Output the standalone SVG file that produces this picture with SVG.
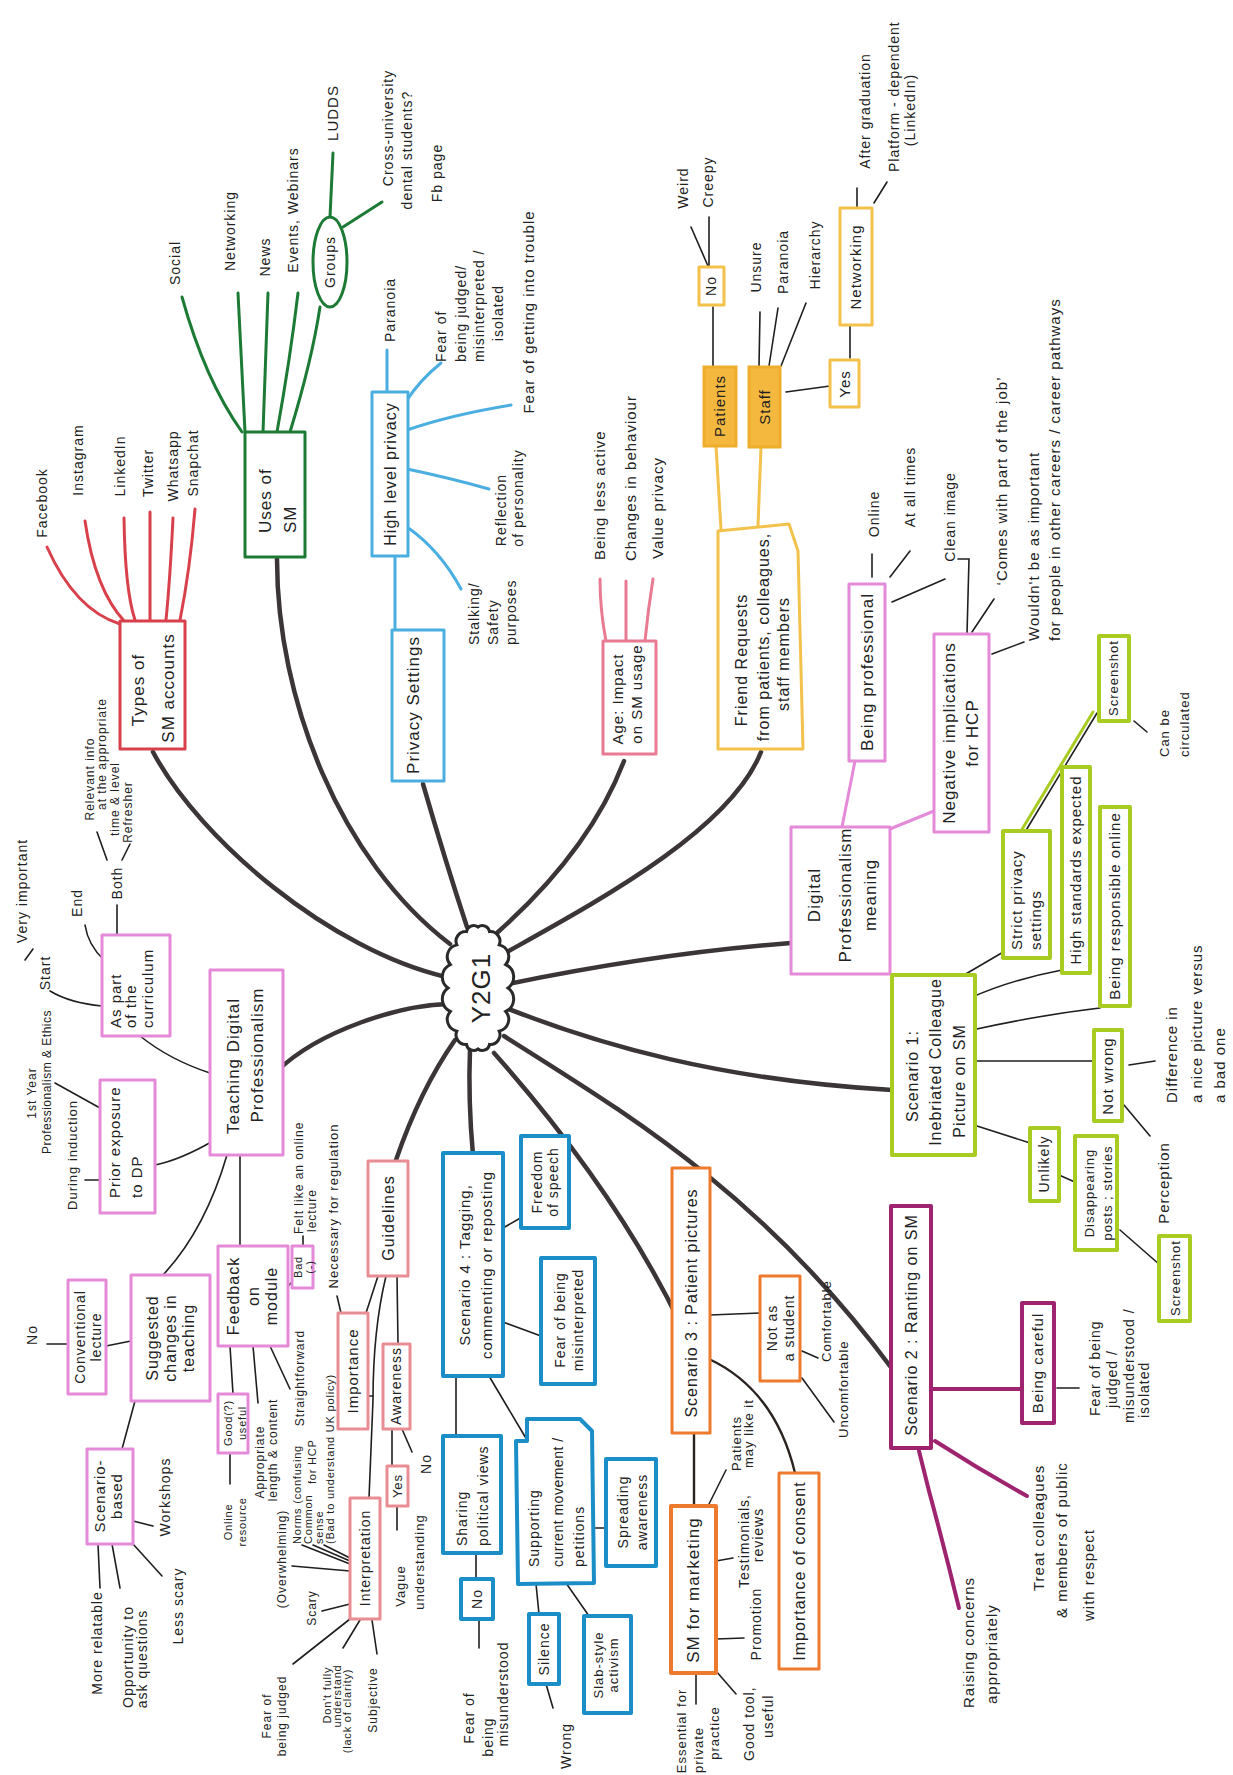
<svg xmlns="http://www.w3.org/2000/svg" width="1233" height="1775" viewBox="0 0 1233 1775">
<style>
text{font-family:"Liberation Sans","DejaVu Sans",sans-serif;fill:#222;}
.m{text-anchor:middle}
.s{text-anchor:start}
.f11{font-size:11px;letter-spacing:.8px}
.f12{font-size:12px;letter-spacing:1px}
.f13{font-size:13px;letter-spacing:1px}
.f14{font-size:14px;letter-spacing:1px}
.f15{font-size:15px;letter-spacing:1px}
.f16{font-size:16px;letter-spacing:1px}
.f17{font-size:17px;letter-spacing:1px}
.cn{fill:none;stroke:#3b3537;stroke-width:4.5;stroke-linecap:round}
.k{fill:none;stroke:#1f1f1f;stroke-width:1.6;stroke-linecap:round}
.kd{fill:none;stroke:#2a2320;stroke-width:2.4;stroke-linecap:round}
.L{fill:none;stroke-width:3;stroke-linecap:round}
.bx{fill:#fff;stroke-width:3;stroke-linejoin:round}
.red{stroke:#d8414c}.grn{stroke:#1c7a35}.lb{stroke:#4aaee0}.pk{stroke:#e87b92}.yl{stroke:#f2c24c}.mg{stroke:#e58ad8}.lm{stroke:#a9cc22}.pu{stroke:#9e2470}.or{stroke:#ee7a2e}.bl{stroke:#1b8ec7}.sa{stroke:#e98d95}
.w4{stroke-width:4}
.gold{fill:#f5b83f;stroke:#eeae2c;stroke-width:3}
</style>

<g id="connectors">
<path class="cn" d="M153,752 C200,840 330,950 446,977"/>
<path class="cn" d="M277,559 C277,700 340,860 450,944"/>
<path class="cn" d="M423,784 Q445,860 467,927"/>
<path class="cn" d="M624,761 Q590,850 498,932"/>
<path class="cn" d="M761,752 C730,830 600,900 507,952"/>
<path class="cn" d="M791,943 C700,950 600,965 508,984"/>
<path class="cn" d="M892,1090 C720,1080 600,1045 506,1008"/>
<path class="cn" d="M893,1370 C760,1190 620,1110 504,1036"/>
<path class="cn" d="M681,1325 C640,1240 580,1150 494,1053"/>
<path class="cn" d="M473,1155 Q468,1100 470,1049"/>
<path class="cn" d="M396,1160 Q420,1090 455,1040"/>
<path class="cn" d="M277,1071 C320,1030 400,1005 449,1004"/>
<path class="L red" d="M120,624 Q75,610 47,547"/>
<path class="L red" d="M125,622 Q95,590 85,521"/>
<path class="L red" d="M135,620 Q125,590 124,518"/>
<path class="L red" d="M150,620 L150,512"/>
<path class="L red" d="M166,620 Q170,580 173,518"/>
<path class="L red" d="M180,620 Q190,570 195,509"/>
<path class="L grn" d="M242,432 Q205,380 182,297"/>
<path class="L grn" d="M245,432 L238,293"/>
<path class="L grn" d="M263,432 L268,293"/>
<path class="L grn" d="M277,432 Q290,360 298,293"/>
<path class="L grn" d="M290,432 Q312,360 320,307"/>
<path class="L grn" d="M330,217 L333,153"/>
<path class="L grn" d="M343,227 L382,202"/>
<path class="L lb" d="M395,630 L395,556"/>
<path class="L lb" d="M387,392 L387,350"/>
<path class="L lb" d="M407,400 Q420,380 441,363"/>
<path class="L lb" d="M407,430 Q450,415 511,405"/>
<path class="L lb" d="M407,469 Q450,478 489,489"/>
<path class="L lb" d="M407,527 Q440,550 461,589"/>
<path class="L pk" d="M606,641 Q600,610 600,579"/>
<path class="L pk" d="M626,641 L626,581"/>
<path class="L pk" d="M645,641 Q648,610 653,579"/>
<path class="L yl" d="M721,529 L716,446"/>
<path class="L yl" d="M758,526 L761,447"/>
<path class="k" d="M713,366 L713,307"/>
<path class="k" d="M708,266 L691,227"/>
<path class="k" d="M709,266 L709,217"/>
<path class="k" d="M759,366 L760,312"/>
<path class="k" d="M769,366 L778,308"/>
<path class="k" d="M781,366 L806,303"/>
<path class="k" d="M786,392 L830,386"/>
<path class="k" d="M850,358 L850,325"/>
<path class="k" d="M857,207 L857,188"/>
<path class="k" d="M874,203 L887,182"/>
<path class="L mg" d="M842,827 L855,761"/>
<path class="L mg" d="M885,831 L934,811"/>
<path class="k" d="M872,577 L872,554"/>
<path class="k" d="M890,577 L910,551"/>
<path class="k" d="M892,602 L945,579"/>
<path class="k" d="M967,634 L969,559 L958,559"/>
<path class="k" d="M972,632 L994,599"/>
<path class="k" d="M992,654 L1024,642"/>
<path class="L lm" d="M1093,712 L1021,831"/>
<path class="k" d="M1097,713 L1025,832"/>
<path class="k" d="M1134,721 L1147,732"/>
<path class="k" d="M964,975 L1005,951"/>
<path class="k" d="M970,998 Q1010,980 1062,970"/>
<path class="k" d="M972,1030 Q1040,1015 1100,1008"/>
<path class="k" d="M972,1061 L1094,1061"/>
<path class="k" d="M977,1126 L1030,1143"/>
<path class="k" d="M1129,1065 L1155,1061"/>
<path class="k" d="M1124,1105 L1150,1136"/>
<path class="k" d="M1059,1175 L1077,1183"/>
<path class="k" d="M1120,1230 L1160,1265"/>
<path class="L pu w4" d="M931,1389 L1022,1389"/>
<path class="k" d="M1057,1388 L1079,1388"/>
<path class="L pu w4" d="M935,1441 Q980,1470 1027,1496"/>
<path class="L pu w4" d="M919,1451 L929,1491 Q945,1550 959,1608"/>
<path class="k" d="M710,1315 L760,1313"/>
<path class="k" d="M802,1351 L818,1358"/>
<path class="k" d="M802,1378 L834,1422"/>
<path class="kd" d="M709,1359 Q775,1390 795,1473"/>
<path class="kd" d="M694,1433 L694,1506"/>
<path class="k" d="M708,1506 L726,1470"/>
<path class="k" d="M716,1561 L733,1558"/>
<path class="k" d="M716,1639 L744,1638"/>
<path class="k" d="M716,1671 L736,1694"/>
<path class="k" d="M696,1673 L696,1704"/>
<path class="k" d="M503,1228 L524,1216"/>
<path class="k" d="M503,1322 L541,1336"/>
<path class="k" d="M456,1376 L456,1436"/>
<path class="k" d="M489,1376 L527,1440"/>
<path class="k" d="M594,1528 L606,1528"/>
<path class="k" d="M476,1553 L476,1579"/>
<path class="k" d="M479,1619 L479,1648"/>
<path class="k" d="M536,1584 L539,1614"/>
<path class="k" d="M546,1684 L553,1708"/>
<path class="k" d="M566,1583 L589,1616"/>
<path class="k" d="M210,1073 Q170,1060 140,1036"/>
<path class="k" d="M102,1006 Q70,1003 50,991"/>
<path class="k" d="M25,960 L33,949"/>
<path class="k" d="M104,960 Q88,945 85,925"/>
<path class="k" d="M117,935 L117,905"/>
<path class="k" d="M107,860 L97,832"/>
<path class="k" d="M122,860 L130,844"/>
<path class="k" d="M213,1141 Q180,1160 155,1165"/>
<path class="k" d="M100,1108 L55,1083"/>
<path class="k" d="M100,1180 L85,1180"/>
<path class="k" d="M227,1155 Q205,1230 163,1275"/>
<path class="k" d="M240,1155 L240,1246"/>
<path class="k" d="M288,1286 L292,1282"/>
<path class="k" d="M303,1246 L303,1236"/>
<path class="k" d="M337,1296 L341,1313"/>
<path class="k" d="M378,1276 L366,1313"/>
<path class="k" d="M386,1276 Q373,1330 373,1400 L369,1498"/>
<path class="k" d="M368,1396 L373,1396"/>
<path class="k" d="M397,1276 L398,1344"/>
<path class="k" d="M392,1429 L392,1466"/>
<path class="k" d="M402,1429 L412,1452"/>
<path class="k" d="M397,1506 L397,1530"/>
<path class="k" d="M292,1566 L350,1571"/>
<path class="k" d="M302,1545 L350,1564"/>
<path class="k" d="M313,1545 L350,1561"/>
<path class="k" d="M324,1545 L350,1558"/>
<path class="k" d="M322,1611 L350,1604"/>
<path class="k" d="M293,1664 L350,1619"/>
<path class="k" d="M343,1648 L360,1620"/>
<path class="k" d="M377,1654 L372,1620"/>
<path class="k" d="M131,1341 L106,1346"/>
<path class="k" d="M67,1344 L47,1344"/>
<path class="k" d="M135,1401 L122,1449"/>
<path class="k" d="M133,1521 L153,1526"/>
<path class="k" d="M133,1544 L162,1576"/>
<path class="k" d="M112,1544 L120,1588"/>
<path class="k" d="M98,1544 L100,1588"/>
<path class="k" d="M230,1346 L233,1394"/>
<path class="k" d="M230,1453 L230,1484"/>
<path class="k" d="M253,1346 L258,1403"/>
<path class="k" d="M270,1346 L290,1389"/>
</g>

<g id="y2g1">
<path d="M508,988 A13.6,13.6 0 0 1 505.7,1011.4 A12,12 0 0 1 499.2,1031.1 A9.6,9.6 0 0 1 489.5,1044.4 A7.2,7.2 0 0 1 478,1049 A7.2,7.2 0 0 1 466.5,1044.4 A9.6,9.6 0 0 1 456.8,1031.1 A12,12 0 0 1 450.3,1011.4 A13.6,13.6 0 0 1 448,988 A13.6,13.6 0 0 1 450.3,964.6 A12,12 0 0 1 456.8,944.9 A9.6,9.6 0 0 1 466.5,931.6 A7.2,7.2 0 0 1 478,927 A7.2,7.2 0 0 1 489.5,931.6 A9.6,9.6 0 0 1 499.2,944.9 A12,12 0 0 1 505.7,964.6 A13.6,13.6 0 0 1 508,988 Z" fill="#fff" stroke="#2a2a2a" stroke-width="3"/>
<text class="m" style="font-size:26px;letter-spacing:1px" transform="translate(490,988) rotate(-90)">Y2G1</text>
</g>

<g id="types-sm-accounts">
<rect class="bx red" x="120" y="621" width="65" height="128"/>
<text class="f17 m" transform="translate(144,690) rotate(-90)">Types of</text>
<text class="f17 m" transform="translate(174,688) rotate(-90)">SM accounts</text>
</g>
<g id="facebook"><text class="f14 m" transform="translate(47,503) rotate(-90)">Facebook</text></g>
<g id="instagram"><text class="f14 m" transform="translate(83,460) rotate(-90)">Instagram</text></g>
<g id="linkedin"><text class="f14 m" transform="translate(125,466) rotate(-90)">LinkedIn</text></g>
<g id="twitter"><text class="f14 m" transform="translate(153,473) rotate(-90)">Twitter</text></g>
<g id="whatsapp"><text class="f14 m" transform="translate(178,466) rotate(-90)">Whatsapp</text></g>
<g id="snapchat"><text class="f14 m" transform="translate(198,463) rotate(-90)">Snapchat</text></g>

<g id="uses-of-sm">
<rect class="bx grn" x="245" y="432" width="60" height="125"/>
<text class="f17 s" transform="translate(271,533) rotate(-90)">Uses of</text>
<text class="f17 s" transform="translate(296,533) rotate(-90)">SM</text>
</g>
<g id="social"><text class="f14 m" transform="translate(180,263) rotate(-90)">Social</text></g>
<g id="networking-use"><text class="f14 m" transform="translate(235,231) rotate(-90)">Networking</text></g>
<g id="news"><text class="f14 m" transform="translate(270,257) rotate(-90)">News</text></g>
<g id="events"><text class="f14 m" transform="translate(298,210) rotate(-90)">Events, Webinars</text></g>
<g id="groups">
<ellipse cx="330" cy="262" rx="17" ry="45" fill="#fff" stroke="#1c7a35" stroke-width="3"/>
<text class="f14 m" transform="translate(335,262) rotate(-90)">Groups</text>
</g>
<g id="ludds"><text class="f15 m" transform="translate(338,113) rotate(-90)">LUDDS</text></g>
<g id="cross-university">
<text class="f14 m" transform="translate(393,128) rotate(-90)">Cross-university</text>
<text class="f14 m" transform="translate(412,150) rotate(-90)">dental students?</text>
<text class="f14 m" transform="translate(442,173) rotate(-90)">Fb page</text>
</g>

<g id="privacy-settings">
<rect class="bx lb" x="392" y="630" width="52" height="151"/>
<text class="f17 m" transform="translate(419,705) rotate(-90)">Privacy Settings</text>
</g>
<g id="high-level-privacy">
<rect class="bx lb" x="372" y="392" width="36" height="164"/>
<text class="f16 m" transform="translate(396,474) rotate(-90)">High level privacy</text>
</g>
<g id="paranoia-1"><text class="f14 m" transform="translate(395,310) rotate(-90)">Paranoia</text></g>
<g id="fear-judged">
<text class="f14 s" transform="translate(446,362) rotate(-90)">Fear of</text>
<text class="f14 s" transform="translate(466,362) rotate(-90)">being judged/</text>
<text class="f14 s" transform="translate(484,362) rotate(-90)">misinterpreted /</text>
<text class="f14 m" transform="translate(503,313) rotate(-90)">isolated</text>
</g>
<g id="fear-trouble"><text class="f15 m" transform="translate(534,312) rotate(-90)">Fear of getting into trouble</text></g>
<g id="reflection">
<text class="f14 m" transform="translate(506,510) rotate(-90)">Reflection</text>
<text class="f14 m" transform="translate(523,498) rotate(-90)">of personality</text>
</g>
<g id="stalking">
<text class="f14 s" transform="translate(479,645) rotate(-90)">Stalking/</text>
<text class="f14 s" transform="translate(498,645) rotate(-90)">Safety</text>
<text class="f14 s" transform="translate(516,645) rotate(-90)">purposes</text>
</g>

<g id="age-impact">
<rect class="bx pk" x="603" y="641" width="53" height="113"/>
<text class="f15 m" transform="translate(623,699) rotate(-90)">Age: Impact</text>
<text class="f15 m" transform="translate(642,694) rotate(-90)">on SM usage</text>
</g>
<g id="less-active"><text class="f15 s" transform="translate(605,560) rotate(-90)">Being less active</text></g>
<g id="changes-behaviour"><text class="f15 s" transform="translate(636,561) rotate(-90)">Changes in behaviour</text></g>
<g id="value-privacy"><text class="f15 s" transform="translate(663,559) rotate(-90)">Value privacy</text></g>

<g id="friend-requests">
<polygon class="bx yl" points="718,531 789,524 798,551 803,749 718,749"/>
<text class="f16 m" transform="translate(747,660) rotate(-90)">Friend Requests</text>
<text class="f16 m" transform="translate(769,637) rotate(-90)">from patients, colleagues,</text>
<text class="f16 m" transform="translate(789,654) rotate(-90)">staff members</text>
</g>
<g id="patients">
<rect class="gold" x="704" y="367" width="32" height="79"/>
<text class="f15 m" transform="translate(725,406) rotate(-90)">Patients</text>
</g>
<g id="staff">
<rect class="gold" x="749" y="367" width="31" height="80"/>
<text class="f15 m" transform="translate(770,407) rotate(-90)">Staff</text>
</g>
<g id="no-patients">
<rect class="bx yl" x="699" y="267" width="25" height="38"/>
<text class="f14 m" transform="translate(716,286) rotate(-90)">No</text>
</g>
<g id="weird"><text class="f14 m" transform="translate(688,188) rotate(-90)">Weird</text></g>
<g id="creepy"><text class="f14 m" transform="translate(713,182) rotate(-90)">Creepy</text></g>
<g id="unsure"><text class="f14 m" transform="translate(761,267) rotate(-90)">Unsure</text></g>
<g id="paranoia-2"><text class="f14 m" transform="translate(788,262) rotate(-90)">Paranoia</text></g>
<g id="hierarchy"><text class="f14 m" transform="translate(820,255) rotate(-90)">Hierarchy</text></g>
<g id="yes-staff">
<rect class="bx yl" x="830" y="360" width="29" height="47"/>
<text class="f15 m" transform="translate(850,384) rotate(-90)">Yes</text>
</g>
<g id="networking-staff">
<rect class="bx yl" x="840" y="208" width="32" height="117"/>
<text class="f15 m" transform="translate(861,267) rotate(-90)">Networking</text>
</g>
<g id="after-graduation"><text class="f14 m" transform="translate(870,111) rotate(-90)">After graduation</text></g>
<g id="platform-dependent">
<text class="f14 s" transform="translate(899,172) rotate(-90)">Platform - dependent</text>
<text class="f14 m" transform="translate(915,110) rotate(-90)">(LinkedIn)</text>
</g>

<g id="digital-professionalism">
<rect class="bx mg" x="791" y="827" width="99" height="147"/>
<text class="f17 m" transform="translate(820,895) rotate(-90)">Digital</text>
<text class="f17 m" transform="translate(851,895) rotate(-90)">Professionalism</text>
<text class="f17 m" transform="translate(876,895) rotate(-90)">meaning</text>
</g>
<g id="being-professional">
<rect class="bx mg" x="849" y="584" width="36" height="177"/>
<text class="f17 m" transform="translate(873,672) rotate(-90)">Being professional</text>
</g>
<g id="online"><text class="f14 m" transform="translate(879,514) rotate(-90)">Online</text></g>
<g id="at-all-times"><text class="f14 m" transform="translate(915,487) rotate(-90)">At all times</text></g>
<g id="clean-image"><text class="f14 m" transform="translate(955,517) rotate(-90)">Clean image</text></g>
<g id="negative-implications">
<rect class="bx mg" x="934" y="634" width="55" height="198"/>
<text class="f17 m" transform="translate(955,733) rotate(-90)">Negative implications</text>
<text class="f17 m" transform="translate(978,733) rotate(-90)">for HCP</text>
</g>
<g id="comes-with-job"><text class="f15 m" transform="translate(1007,481) rotate(-90)">‘Comes with part of the job’</text></g>
<g id="wouldnt-be">
<text class="f15 s" transform="translate(1039,641) rotate(-90)">Wouldn't be as important</text>
<text class="f15 s" transform="translate(1060,641) rotate(-90)">for people in other careers / career pathways</text>
</g>

<g id="scenario-1">
<rect class="bx lm w4" x="892" y="975" width="83" height="180"/>
<text class="f16 m" transform="translate(918,1076) rotate(-90)">Scenario 1:</text>
<text class="f16 m" transform="translate(941,1062) rotate(-90)">Inebriated Colleague</text>
<text class="f16 m" transform="translate(965,1081) rotate(-90)">Picture on SM</text>
</g>
<g id="screenshot-1">
<rect class="bx lm w4" x="1099" y="636" width="30" height="85"/>
<text class="f13 m" transform="translate(1118,678) rotate(-90)">Screenshot</text>
</g>
<g id="can-be-circulated">
<text class="f13 s" transform="translate(1169,757) rotate(-90)">Can be</text>
<text class="f13 s" transform="translate(1189,757) rotate(-90)">circulated</text>
</g>
<g id="strict-privacy">
<rect class="bx lm w4" x="1003" y="831" width="47" height="127"/>
<text class="f15 s" transform="translate(1022,950) rotate(-90)">Strict privacy</text>
<text class="f15 s" transform="translate(1041,950) rotate(-90)">settings</text>
</g>
<g id="high-standards">
<rect class="bx lm w4" x="1062" y="767" width="28" height="206"/>
<text class="f15 m" transform="translate(1081,870) rotate(-90)">High standards expected</text>
</g>
<g id="being-responsible">
<rect class="bx lm w4" x="1100" y="807" width="30" height="199"/>
<text class="f15 m" transform="translate(1120,906) rotate(-90)">Being responsible online</text>
</g>
<g id="not-wrong">
<rect class="bx lm w4" x="1094" y="1030" width="28" height="91"/>
<text class="f15 m" transform="translate(1113,1076) rotate(-90)">Not wrong</text>
</g>
<g id="difference">
<text class="f15 s" transform="translate(1177,1103) rotate(-90)">Difference in</text>
<text class="f15 s" transform="translate(1202,1103) rotate(-90)">a nice picture versus</text>
<text class="f15 s" transform="translate(1225,1103) rotate(-90)">a bad one</text>
</g>
<g id="perception"><text class="f15 m" transform="translate(1169,1183) rotate(-90)">Perception</text></g>
<g id="unlikely">
<rect class="bx lm w4" x="1030" y="1128" width="29" height="73"/>
<text class="f14 m" transform="translate(1049,1164) rotate(-90)">Unlikely</text>
</g>
<g id="disappearing">
<rect class="bx lm w4" x="1075" y="1136" width="42" height="114"/>
<text class="f13 m" transform="translate(1094,1193) rotate(-90)">Disappearing</text>
<text class="f13 m" transform="translate(1112,1193) rotate(-90)">posts ; stories</text>
</g>
<g id="screenshot-2">
<rect class="bx lm w4" x="1159" y="1236" width="31" height="85"/>
<text class="f13 m" transform="translate(1180,1278) rotate(-90)">Screenshot</text>
</g>

<g id="scenario-2">
<rect class="bx pu w4" x="891" y="1206" width="40" height="242"/>
<text class="f16 m" transform="translate(917,1325) rotate(-90)">Scenario 2 : Ranting on SM</text>
</g>
<g id="being-careful">
<rect class="bx pu w4" x="1022" y="1303" width="32" height="120"/>
<text class="f15 m" transform="translate(1043,1363) rotate(-90)">Being careful</text>
</g>
<g id="fear-misunderstood-2">
<text class="f14 s" transform="translate(1100,1416) rotate(-90)">Fear of being</text>
<text class="f14 s" transform="translate(1117,1408) rotate(-90)">judged /</text>
<text class="f14 s" transform="translate(1134,1423) rotate(-90)">misunderstood /</text>
<text class="f14 s" transform="translate(1149,1418) rotate(-90)">isolated</text>
</g>
<g id="treat-colleagues">
<text class="f15 s" transform="translate(1044,1591) rotate(-90)">Treat colleagues</text>
<text class="f15 s" transform="translate(1067,1618) rotate(-90)">&amp; members of public</text>
<text class="f15 s" transform="translate(1094,1621) rotate(-90)">with respect</text>
</g>
<g id="raising-concerns">
<text class="f15 s" transform="translate(974,1708) rotate(-90)">Raising concerns</text>
<text class="f15 s" transform="translate(997,1704) rotate(-90)">appropriately</text>
</g>

<g id="scenario-3">
<rect class="bx or" x="672" y="1168" width="38" height="265"/>
<text class="f16 m" transform="translate(697,1303) rotate(-90)">Scenario 3 : Patient pictures</text>
</g>
<g id="not-as-student">
<rect class="bx or" x="760" y="1276" width="40" height="105"/>
<text class="f14 m" transform="translate(777,1328) rotate(-90)">Not as</text>
<text class="f14 m" transform="translate(794,1328) rotate(-90)">a student</text>
</g>
<g id="comfortable"><text class="f13 s" transform="translate(831,1362) rotate(-90)">Comfortable</text></g>
<g id="uncomfortable"><text class="f13 s" transform="translate(848,1438) rotate(-90)">Uncomfortable</text></g>
<g id="importance-consent">
<rect class="bx or" x="779" y="1473" width="40" height="196"/>
<text class="f16 m" transform="translate(805,1571) rotate(-90)">Importance of consent</text>
</g>
<g id="sm-marketing">
<rect class="bx or w4" x="671" y="1506" width="45" height="167"/>
<text class="f17 m" transform="translate(699,1590) rotate(-90)">SM for marketing</text>
</g>
<g id="patients-like">
<text class="f13 s" transform="translate(741,1471) rotate(-90)">Patients</text>
<text class="f13 s" transform="translate(753,1468) rotate(-90)">may like it</text>
</g>
<g id="testimonials">
<text class="f14 m" transform="translate(749,1541) rotate(-90)">Testimonials,</text>
<text class="f14 m" transform="translate(763,1535) rotate(-90)">reviews</text>
</g>
<g id="promotion"><text class="f14 m" transform="translate(761,1624) rotate(-90)">Promotion</text></g>
<g id="good-tool">
<text class="f14 s" transform="translate(754,1761) rotate(-90)">Good tool,</text>
<text class="f14 s" transform="translate(773,1738) rotate(-90)">useful</text>
</g>
<g id="essential">
<text class="f13 m" transform="translate(686,1731) rotate(-90)">Essential for</text>
<text class="f13 m" transform="translate(703,1750) rotate(-90)">private</text>
<text class="f13 m" transform="translate(719,1733) rotate(-90)">practice</text>
</g>

<g id="scenario-4">
<rect class="bx bl w4" x="443" y="1153" width="60" height="223"/>
<text class="f15 m" transform="translate(470,1265) rotate(-90)">Scenario 4 : Tagging,</text>
<text class="f15 m" transform="translate(492,1265) rotate(-90)">commenting or reposting</text>
</g>
<g id="freedom-speech">
<rect class="bx bl w4" x="521" y="1136" width="48" height="92"/>
<text class="f14 m" transform="translate(542,1182) rotate(-90)">Freedom</text>
<text class="f14 m" transform="translate(558,1182) rotate(-90)">of speech</text>
</g>
<g id="fear-misinterpreted">
<rect class="bx bl w4" x="541" y="1258" width="54" height="126"/>
<text class="f14 m" transform="translate(565,1320) rotate(-90)">Fear of being</text>
<text class="f14 m" transform="translate(583,1320) rotate(-90)">misinterpreted</text>
</g>
<g id="sharing-political">
<rect class="bx bl w4" x="443" y="1436" width="58" height="117"/>
<text class="f14 s" transform="translate(467,1546) rotate(-90)">Sharing</text>
<text class="f14 s" transform="translate(488,1546) rotate(-90)">political views</text>
</g>
<g id="supporting">
<polygon class="bx bl w4" points="516,1441 527,1441 527,1419 580,1419 592,1431 594,1583 518,1584"/>
<text class="f14 s" transform="translate(539,1567) rotate(-90)">Supporting</text>
<text class="f14 s" style="letter-spacing:.5px" transform="translate(563,1567) rotate(-90)">current movement /</text>
<text class="f14 s" transform="translate(584,1567) rotate(-90)">petitions</text>
</g>
<g id="spreading-awareness">
<rect class="bx bl w4" x="606" y="1459" width="50" height="107"/>
<text class="f14 m" transform="translate(628,1512) rotate(-90)">Spreading</text>
<text class="f14 m" transform="translate(647,1512) rotate(-90)">awareness</text>
</g>
<g id="no-sharing">
<rect class="bx bl w4" x="461" y="1579" width="32" height="40"/>
<text class="f14 m" transform="translate(482,1599) rotate(-90)">No</text>
</g>
<g id="fear-misunderstood">
<text class="f14 m" transform="translate(474,1718) rotate(-90)">Fear of</text>
<text class="f14 m" transform="translate(493,1737) rotate(-90)">being</text>
<text class="f14 m" transform="translate(508,1694) rotate(-90)">misunderstood</text>
</g>
<g id="silence">
<rect class="bx bl w4" x="529" y="1614" width="30" height="70"/>
<text class="f14 m" transform="translate(549,1649) rotate(-90)">Silence</text>
</g>
<g id="wrong"><text class="f14 m" transform="translate(571,1746) rotate(-90)">Wrong</text></g>
<g id="slab-style">
<rect class="bx bl w4" x="584" y="1616" width="47" height="97"/>
<text class="f13 m" transform="translate(603,1665) rotate(-90)">Slab-style</text>
<text class="f13 m" transform="translate(618,1665) rotate(-90)">activism</text>
</g>

<g id="teaching-dp">
<rect class="bx mg" x="210" y="970" width="73" height="185"/>
<text class="f17 m" transform="translate(239,1066) rotate(-90)">Teaching Digital</text>
<text class="f17 m" transform="translate(263,1055) rotate(-90)">Professionalism</text>
</g>
<g id="as-part-curriculum">
<rect class="bx mg" x="102" y="935" width="68" height="101"/>
<text class="f15 s" transform="translate(121,1028) rotate(-90)">As part</text>
<text class="f15 s" transform="translate(136,1028) rotate(-90)">of the</text>
<text class="f15 s" transform="translate(153,1028) rotate(-90)">curriculum</text>
</g>
<g id="start"><text class="f14 m" transform="translate(50,973) rotate(-90)">Start</text></g>
<g id="very-important"><text class="f14 m" transform="translate(27,891) rotate(-90)">Very important</text></g>
<g id="end"><text class="f14 m" transform="translate(82,903) rotate(-90)">End</text></g>
<g id="both"><text class="f14 m" transform="translate(122,883) rotate(-90)">Both</text></g>
<g id="relevant-info">
<text class="f12 m" transform="translate(94,779) rotate(-90)">Relevant info</text>
<text class="f12 m" transform="translate(106,754) rotate(-90)">at the appropriate</text>
<text class="f12 m" transform="translate(119,799) rotate(-90)">time &amp; level</text>
</g>
<g id="refresher"><text class="f12 m" transform="translate(132,812) rotate(-90)">Refresher</text></g>
<g id="prior-exposure">
<rect class="bx mg" x="100" y="1080" width="55" height="133"/>
<text class="f15 s" transform="translate(120,1198) rotate(-90)">Prior exposure</text>
<text class="f15 s" transform="translate(142,1198) rotate(-90)">to DP</text>
</g>
<g id="first-year">
<text class="f12 m" transform="translate(36,1093) rotate(-90)">1st Year</text>
<text class="f12 m" style="letter-spacing:.5px" transform="translate(51,1082) rotate(-90)">Professionalism &amp; Ethics</text>
</g>
<g id="during-induction"><text class="f13 m" transform="translate(77,1155) rotate(-90)">During induction</text></g>
<g id="feedback-module">
<rect class="bx mg" x="218" y="1246" width="70" height="100"/>
<text class="f16 m" transform="translate(239,1296) rotate(-90)">Feedback</text>
<text class="f16 m" transform="translate(259,1296) rotate(-90)">on</text>
<text class="f16 m" transform="translate(277,1296) rotate(-90)">module</text>
</g>
<g id="bad">
<rect class="bx mg" x="292" y="1246" width="21" height="42"/>
<text class="f11 m" transform="translate(302,1267) rotate(-90)">Bad</text>
<text class="f11 m" transform="translate(314,1267) rotate(-90)">(-)</text>
</g>
<g id="felt-like">
<text class="f12 s" transform="translate(303,1234) rotate(-90)">Felt like an online</text>
<text class="f12 s" transform="translate(316,1232) rotate(-90)">lecture</text>
</g>
<g id="necessary-regulation"><text class="f13 m" transform="translate(338,1206) rotate(-90)">Necessary for regulation</text></g>
<g id="guidelines">
<rect class="bx sa" x="368" y="1161" width="40" height="115"/>
<text class="f16 m" transform="translate(394,1218) rotate(-90)">Guidelines</text>
</g>
<g id="importance">
<rect class="bx sa" x="338" y="1313" width="30" height="116"/>
<text class="f15 m" transform="translate(358,1371) rotate(-90)">Importance</text>
</g>
<g id="awareness">
<rect class="bx sa" x="383" y="1344" width="27" height="85"/>
<text class="f14 m" transform="translate(401,1386) rotate(-90)">Awareness</text>
</g>
<g id="yes-awareness">
<rect class="bx sa" x="387" y="1466" width="21" height="40"/>
<text class="f13 m" transform="translate(402,1486) rotate(-90)">Yes</text>
</g>
<g id="no-awareness"><text class="f14 m" transform="translate(431,1464) rotate(-90)">No</text></g>
<g id="vague">
<text class="f13 m" transform="translate(405,1586) rotate(-90)">Vague</text>
<text class="f13 m" transform="translate(424,1562) rotate(-90)">understanding</text>
</g>
<g id="interpretation">
<rect class="bx sa" x="350" y="1498" width="30" height="121"/>
<text class="f14 m" transform="translate(370,1558) rotate(-90)">Interpretation</text>
</g>
<g id="overwhelming"><text class="f12 m" transform="translate(286,1559) rotate(-90)">(Overwhelming)</text></g>
<g id="norms">
<text class="f11 s" transform="translate(301,1544) rotate(-90)">Norms (confusing</text>
<text class="f11 s" transform="translate(316,1484) rotate(-90)">for HCP</text>
</g>
<g id="common-sense">
<text class="f11 s" transform="translate(312,1544) rotate(-90)">Common</text>
<text class="f11 s" transform="translate(323,1544) rotate(-90)">sense</text>
<text class="f11 s" transform="translate(334,1544) rotate(-90)">(Bad to understand UK policy)</text>
</g>
<g id="scary"><text class="f12 m" transform="translate(316,1608) rotate(-90)">Scary</text></g>
<g id="fear-judged-2">
<text class="f12 m" transform="translate(271,1716) rotate(-90)">Fear of</text>
<text class="f12 m" transform="translate(286,1716) rotate(-90)">being judged</text>
</g>
<g id="dont-understand">
<text class="f11 m" transform="translate(331,1695) rotate(-90)">Don't fully</text>
<text class="f11 m" transform="translate(341,1696) rotate(-90)">understand</text>
<text class="f11 m" transform="translate(351,1711) rotate(-90)">(lack of clarity)</text>
</g>
<g id="subjective"><text class="f12 m" transform="translate(377,1700) rotate(-90)">Subjective</text></g>
<g id="suggested-changes">
<rect class="bx mg" x="131" y="1275" width="79" height="126"/>
<text class="f16 m" transform="translate(158,1338) rotate(-90)">Suggested</text>
<text class="f16 m" transform="translate(176,1338) rotate(-90)">changes in</text>
<text class="f16 m" transform="translate(194,1338) rotate(-90)">teaching</text>
</g>
<g id="conventional-lecture">
<rect class="bx mg" x="68" y="1280" width="38" height="114"/>
<text class="f14 m" transform="translate(85,1337) rotate(-90)">Conventional</text>
<text class="f14 m" transform="translate(101,1337) rotate(-90)">lecture</text>
</g>
<g id="no-conventional"><text class="f14 m" transform="translate(37,1335) rotate(-90)">No</text></g>
<g id="scenario-based">
<rect class="bx mg" x="87" y="1449" width="46" height="95"/>
<text class="f15 m" transform="translate(105,1496) rotate(-90)">Scenario-</text>
<text class="f15 m" transform="translate(122,1496) rotate(-90)">based</text>
</g>
<g id="workshops"><text class="f14 m" transform="translate(170,1497) rotate(-90)">Workshops</text></g>
<g id="less-scary"><text class="f14 m" transform="translate(183,1606) rotate(-90)">Less scary</text></g>
<g id="opportunity">
<text class="f14 m" transform="translate(133,1657) rotate(-90)">Opportunity to</text>
<text class="f14 m" transform="translate(147,1659) rotate(-90)">ask questions</text>
</g>
<g id="more-relatable"><text class="f14 m" transform="translate(102,1643) rotate(-90)">More relatable</text></g>
<g id="good-useful">
<rect class="bx mg" x="218" y="1394" width="30" height="59"/>
<text class="f11 m" transform="translate(232,1423) rotate(-90)">Good(?)</text>
<text class="f11 m" transform="translate(246,1423) rotate(-90)">useful</text>
</g>
<g id="online-resource">
<text class="f11 m" transform="translate(232,1522) rotate(-90)">Online</text>
<text class="f11 m" transform="translate(246,1522) rotate(-90)">resource</text>
</g>
<g id="appropriate-length">
<text class="f12 m" transform="translate(264,1462) rotate(-90)">Appropriate</text>
<text class="f12 m" transform="translate(277,1450) rotate(-90)">length &amp; content</text>
</g>
<g id="straightforward"><text class="f12 m" transform="translate(304,1378) rotate(-90)">Straightforward</text></g>
</svg>
